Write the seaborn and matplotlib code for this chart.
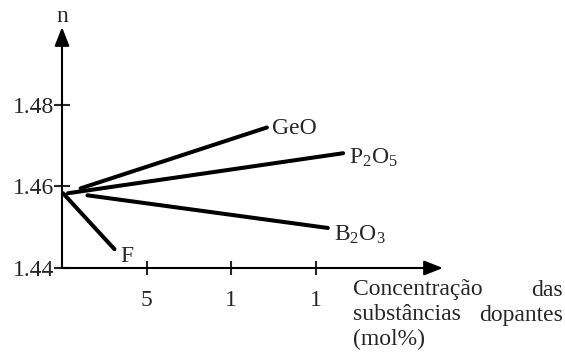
import pandas as pd
import matplotlib
matplotlib.use("Agg")
import matplotlib.pyplot as plt
import seaborn as sns

# values (start and end of each straight line)
substances = ["GeO", "P$_2$O$_5$", "B$_2$O$_3$", "F"]
conc_start = [1.1, 0.35, 1.5, 0.06]
conc_end = [12.1, 16.6, 15.7, 3.1]
n_start = [1.4595, 1.4583, 1.4578, 1.4583]
n_end = [1.4744, 1.4681, 1.4498, 1.4446]

x_ticks = [5, 10, 15]
x_ticklabels = ["5", "1", "1"]
y_ticks = [1.44, 1.46, 1.48]
y_ticklabels = ["1.44", "1.46", "1.48"]

rows = []
for s, x0, x1, y0, y1 in zip(substances, conc_start, conc_end, n_start, n_end):
    rows.append({"substance": s, "conc": x0, "n": y0})
    rows.append({"substance": s, "conc": x1, "n": y1})
df = pd.DataFrame(rows)

sns.set_style("white")
plt.rcParams["font.family"] = ["Liberation Serif", "DejaVu Serif"]
plt.rcParams["mathtext.fontset"] = "custom"
plt.rcParams["mathtext.rm"] = "Liberation Serif"
plt.rcParams["mathtext.it"] = "Liberation Serif:italic"

fs = 17

fig = plt.figure(figsize=(5.65, 3.54), dpi=100)
ax = fig.add_axes([62 / 565, 1 - 268 / 354, (443 - 62) / 565, (268 - 27) / 354])

sns.lineplot(data=df, x="conc", y="n", hue="substance", palette=["black"] * 4,
             linewidth=2.9, legend=False, ax=ax)

# labels at the end of each line
offsets = {"GeO": (4, -1), "P$_2$O$_5$": (4, -3), "B$_2$O$_3$": (4.5, -5), "F": (4, -5)}
for s, x1, y1 in zip(substances, conc_end, n_end):
    ax.annotate(s, xy=(x1, y1), xytext=offsets[s], textcoords="offset points",
                ha="left", va="center", fontsize=fs)

ax.set_xlim(0, 22.5)
ax.set_ylim(1.44, 1.499)
for sp in ax.spines.values():
    sp.set_visible(False)

# axes drawn as arrows
arrow = dict(arrowstyle="-|>,head_length=1.15,head_width=0.45", lw=1.5, color="black",
             shrinkA=0, shrinkB=0, mutation_scale=10)
ax.annotate("", xy=(1, 0), xytext=(0, 0), xycoords="axes fraction", arrowprops=arrow,
            annotation_clip=False)
ax.annotate("", xy=(0, 1), xytext=(0, 0), xycoords="axes fraction", arrowprops=arrow,
            annotation_clip=False)
ax.text(0, 0.998, "n", transform=ax.transAxes, ha="center", va="bottom", fontsize=fs)

ax.set_xticks(x_ticks)
ax.set_xticklabels(x_ticklabels)
ax.set_yticks(y_ticks)
ax.set_yticklabels(y_ticklabels)
ax.tick_params(axis="x", direction="inout", length=10, width=1.5, pad=11, labelsize=fs, bottom=True)
ax.tick_params(axis="y", direction="inout", length=11, width=1.5, pad=0, labelsize=fs, left=True)
ax.set_xlabel("")
ax.set_ylabel("")

# x axis title, justified over two lines like the reference
fig.text(353 / 565, 1 - 290 / 354, "Concentração", ha="left", va="center", fontsize=fs)
fig.text(563 / 565, 1 - 290 / 354, "das", ha="right", va="center", fontsize=fs)
fig.text(353 / 565, 1 - 315 / 354, "substâncias", ha="left", va="center", fontsize=fs)
fig.text(563 / 565, 1 - 315 / 354, "dopantes", ha="right", va="center", fontsize=fs)
fig.text(353 / 565, 1 - 339 / 354, "(mol%)", ha="left", va="center", fontsize=fs)

fig.savefig("out.png", dpi=100)
